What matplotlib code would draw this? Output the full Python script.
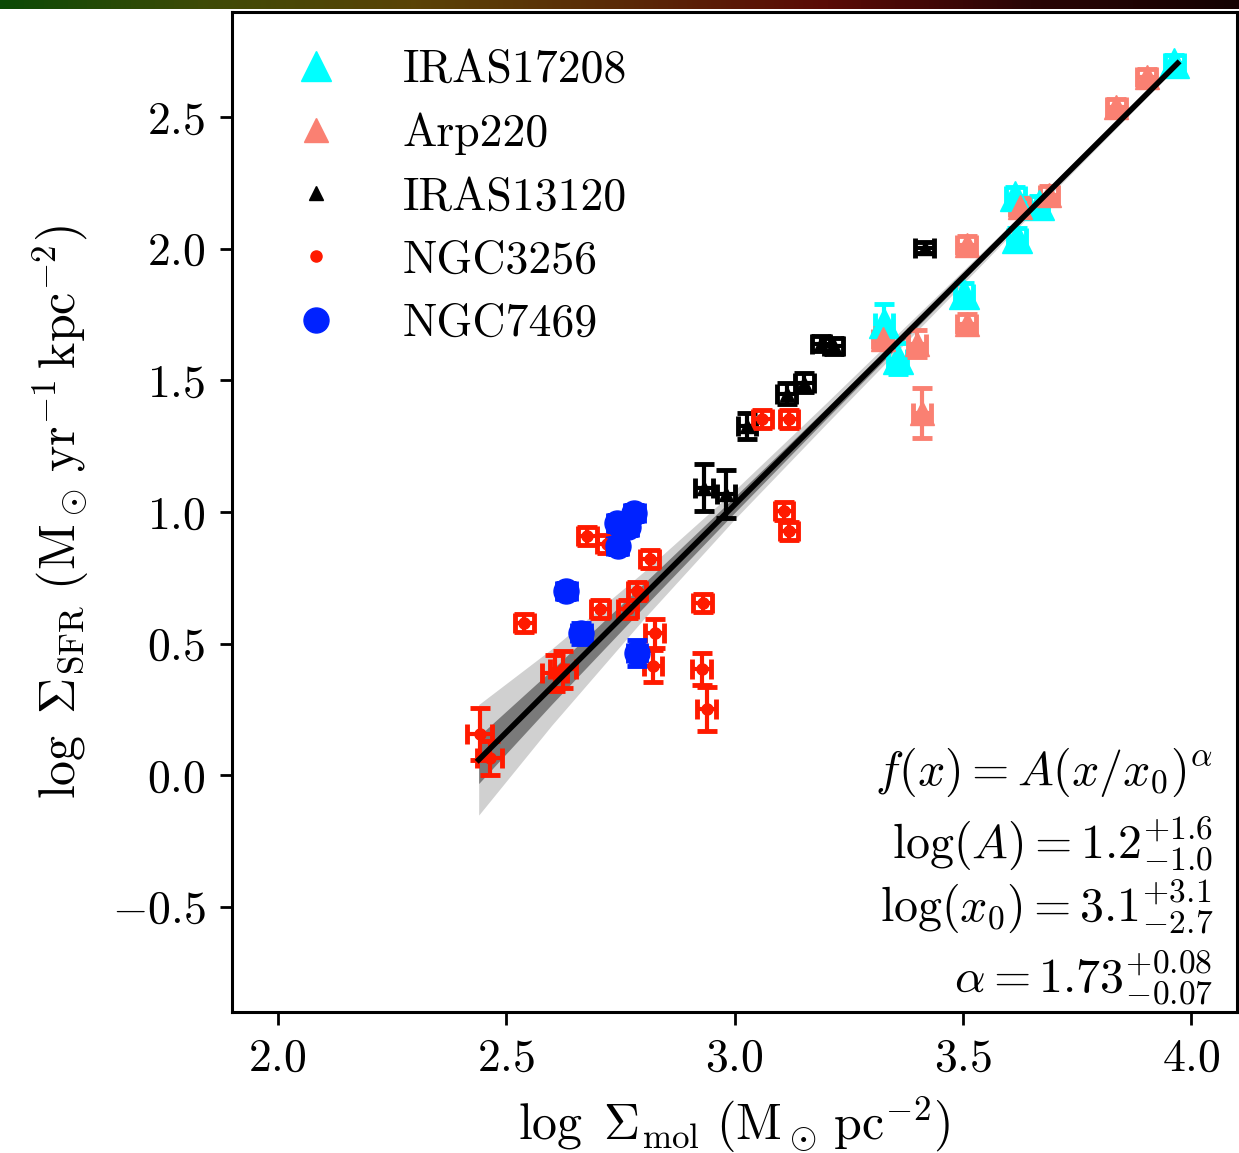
import numpy as np
import matplotlib
matplotlib.use("Agg")
import matplotlib.pyplot as plt
from matplotlib.colors import LinearSegmentedColormap

plt.rcParams['font.family'] = 'serif'
plt.rcParams['font.serif'] = ['cmr10', 'DejaVu Serif']
plt.rcParams['mathtext.fontset'] = 'cm'
plt.rcParams['axes.formatter.use_mathtext'] = True

# --- data ---
# IRAS17208
iras17_x = [3.328, 3.357, 3.503, 3.619, 3.615, 3.667, 3.963]
iras17_y = [1.720, 1.583, 1.830, 2.040, 2.199, 2.165, 2.705]
iras17_xe = [0.02, 0.02, 0.02, 0.02, 0.02, 0.02, 0.02]
iras17_ye = [0.07, 0.06, 0.04, 0.04, 0.035, 0.035, 0.03]

# Arp220
arp_x = [3.324, 3.400, 3.508, 3.508, 3.411, 3.624, 3.689, 3.836, 3.902]
arp_y = [1.659, 1.640, 2.013, 1.716, 1.377, 2.158, 2.203, 2.538, 2.652]
arp_xe = [0.02, 0.02, 0.02, 0.02, 0.02, 0.02, 0.02, 0.02, 0.02]
arp_ye = [0.04, 0.05, 0.035, 0.035, 0.095, 0.035, 0.035, 0.03, 0.03]

# IRAS13120
iras13_x = [2.934, 2.982, 3.028, 3.114, 3.153, 3.190, 3.217, 3.416]
iras13_y = [1.092, 1.069, 1.328, 1.450, 1.492, 1.640, 1.632, 2.005]
iras13_xe = [0.02, 0.02, 0.02, 0.02, 0.02, 0.02, 0.02, 0.02]
iras13_ye = [0.09, 0.09, 0.05, 0.04, 0.035, 0.03, 0.03, 0.02]

# NGC3256
n3256_x = [2.678, 2.72, 2.814, 2.786, 2.705, 2.766, 2.540, 2.825, 2.821, 2.606,
           2.624, 2.442, 2.464, 2.930, 2.928, 2.939, 3.061, 3.120, 3.109, 3.120]
n3256_y = [0.909, 0.88, 0.822, 0.700, 0.632, 0.632, 0.578, 0.540, 0.415, 0.388,
           0.403, 0.156, 0.065, 0.654, 0.403, 0.251, 1.355, 1.355, 1.005, 0.928]
n3256_xe = [0.02, 0.02, 0.02, 0.02, 0.02, 0.02, 0.02, 0.02, 0.02, 0.028,
            0.028, 0.028, 0.028, 0.02, 0.02, 0.02, 0.02, 0.02, 0.02, 0.02]
n3256_ye = [0.034, 0.034, 0.034, 0.034, 0.034, 0.034, 0.034, 0.055, 0.06, 0.07,
            0.07, 0.10, 0.065, 0.034, 0.06, 0.085, 0.034, 0.034, 0.034, 0.034]

# NGC7469
n7469_x = [2.781, 2.742, 2.766, 2.744, 2.632, 2.665, 2.786]
n7469_y = [0.997, 0.959, 0.944, 0.871, 0.700, 0.540, 0.464]
n7469_xe = [0.02, 0.02, 0.02, 0.02, 0.02, 0.02, 0.02]
n7469_ye = [0.03, 0.03, 0.03, 0.03, 0.03, 0.04, 0.05]

# fit parameters (from the annotation)
log_A = 1.2
log_x0 = 3.1
alpha = 1.73
# band half widths
band_x = [2.44, 2.6, 2.8, 3.0, 3.2, 3.4, 3.6, 3.8, 3.97]
band_1s = [0.09, 0.065, 0.045, 0.03, 0.02, 0.015, 0.01, 0.007, 0.005]
band_2s = [0.21, 0.145, 0.09, 0.055, 0.04, 0.03, 0.02, 0.015, 0.01]

fig = plt.figure(figsize=(12.39, 11.53), dpi=100)

# thin coloured strip at the very top
strip = fig.add_axes([0, 1 - 9 / 1153, 1, 9 / 1153])
strip_cmap = LinearSegmentedColormap.from_list(
    'strip', ['#0b4a06', '#3f4a05', '#5a4306', '#5a2a08', '#5a0b05', '#2a0505', '#150303'])
strip.imshow(np.linspace(0, 1, 256)[None, :], aspect='auto', cmap=strip_cmap)
strip.axis('off')

ax = fig.add_axes([232 / 1239, 1 - 1012 / 1153, 1005 / 1239, 1000 / 1153])

# fit line and bands
bx = np.array(band_x)
by = log_A + alpha * (bx - log_x0)
ax.fill_between(bx, by - np.array(band_2s), by + np.array(band_2s), color='#d0d0d0', lw=0, zorder=1)
ax.fill_between(bx, by - np.array(band_1s), by + np.array(band_1s), color='#7a7a7a', lw=0, zorder=1.5)
ax.plot(bx, by, color='black', lw=4, zorder=5)

series = [
    (iras17_x, iras17_y, iras17_xe, iras17_ye, 'cyan', '^', 21, 'IRAS17208'),
    (arp_x, arp_y, arp_xe, arp_ye, 'salmon', '^', 17, 'Arp220'),
    (iras13_x, iras13_y, iras13_xe, iras13_ye, 'black', '^', 10, 'IRAS13120'),
    (n3256_x, n3256_y, n3256_xe, n3256_ye, '#ff1a00', 'o', 8, 'NGC3256'),
    (n7469_x, n7469_y, n7469_xe, n7469_ye, '#0022ff', 'o', 18, 'NGC7469'),
]

for x, y, xe, ye, c, m, ms, lab in series:
    ax.errorbar(x, y, xerr=xe, yerr=ye, fmt='none', ecolor=c, elinewidth=3,
                capsize=7, capthick=3.5, zorder=3)
    ax.plot(x, y, ls='none', marker=m, ms=ms, color=c, mec=c, label=lab, zorder=4)

ax.set_xlim(1.9, 4.1)
ax.set_ylim(-0.9, 2.9)
ax.set_xticks([2.0, 2.5, 3.0, 3.5, 4.0])
ax.set_yticks([-0.5, 0.0, 0.5, 1.0, 1.5, 2.0, 2.5])
ax.tick_params(labelsize=33, width=2, length=9, pad=10)
for s in ax.spines.values():
    s.set_linewidth(2.2)

ax.set_xlabel(r'$\log\ \Sigma_{\rm mol}\ ({\rm M}_\odot\,{\rm pc}^{-2})$', fontsize=36, labelpad=10)
ax.set_ylabel(r'$\log\ \Sigma_{\rm SFR}\ ({\rm M}_\odot\,{\rm yr}^{-1}\,{\rm kpc}^{-2})$', fontsize=36,
              labelpad=15)

ax.legend(loc='upper left', bbox_to_anchor=(22 / 1005, 1 - 3 / 1000), frameon=False,
          fontsize=33, handlelength=1.2, handletextpad=1.3, labelspacing=0.47,
          borderaxespad=0.3, borderpad=0.45)

txt_kw = dict(transform=ax.transAxes, ha='right', va='baseline', fontsize=34.5)
ax.text(0.976, 0.227, r'$f(x) = A(x/x_0)^{\alpha}$', **txt_kw)
ax.text(0.976, 0.154, r'$\log(A) = 1.2^{+1.6}_{-1.0}$', **txt_kw)
ax.text(0.976, 0.090, r'$\log(x_0) = 3.1^{+3.1}_{-2.7}$', **txt_kw)
ax.text(0.976, 0.020, r'$\alpha = 1.73^{+0.08}_{-0.07}$', **txt_kw)

fig.savefig('out.png', dpi=100)
